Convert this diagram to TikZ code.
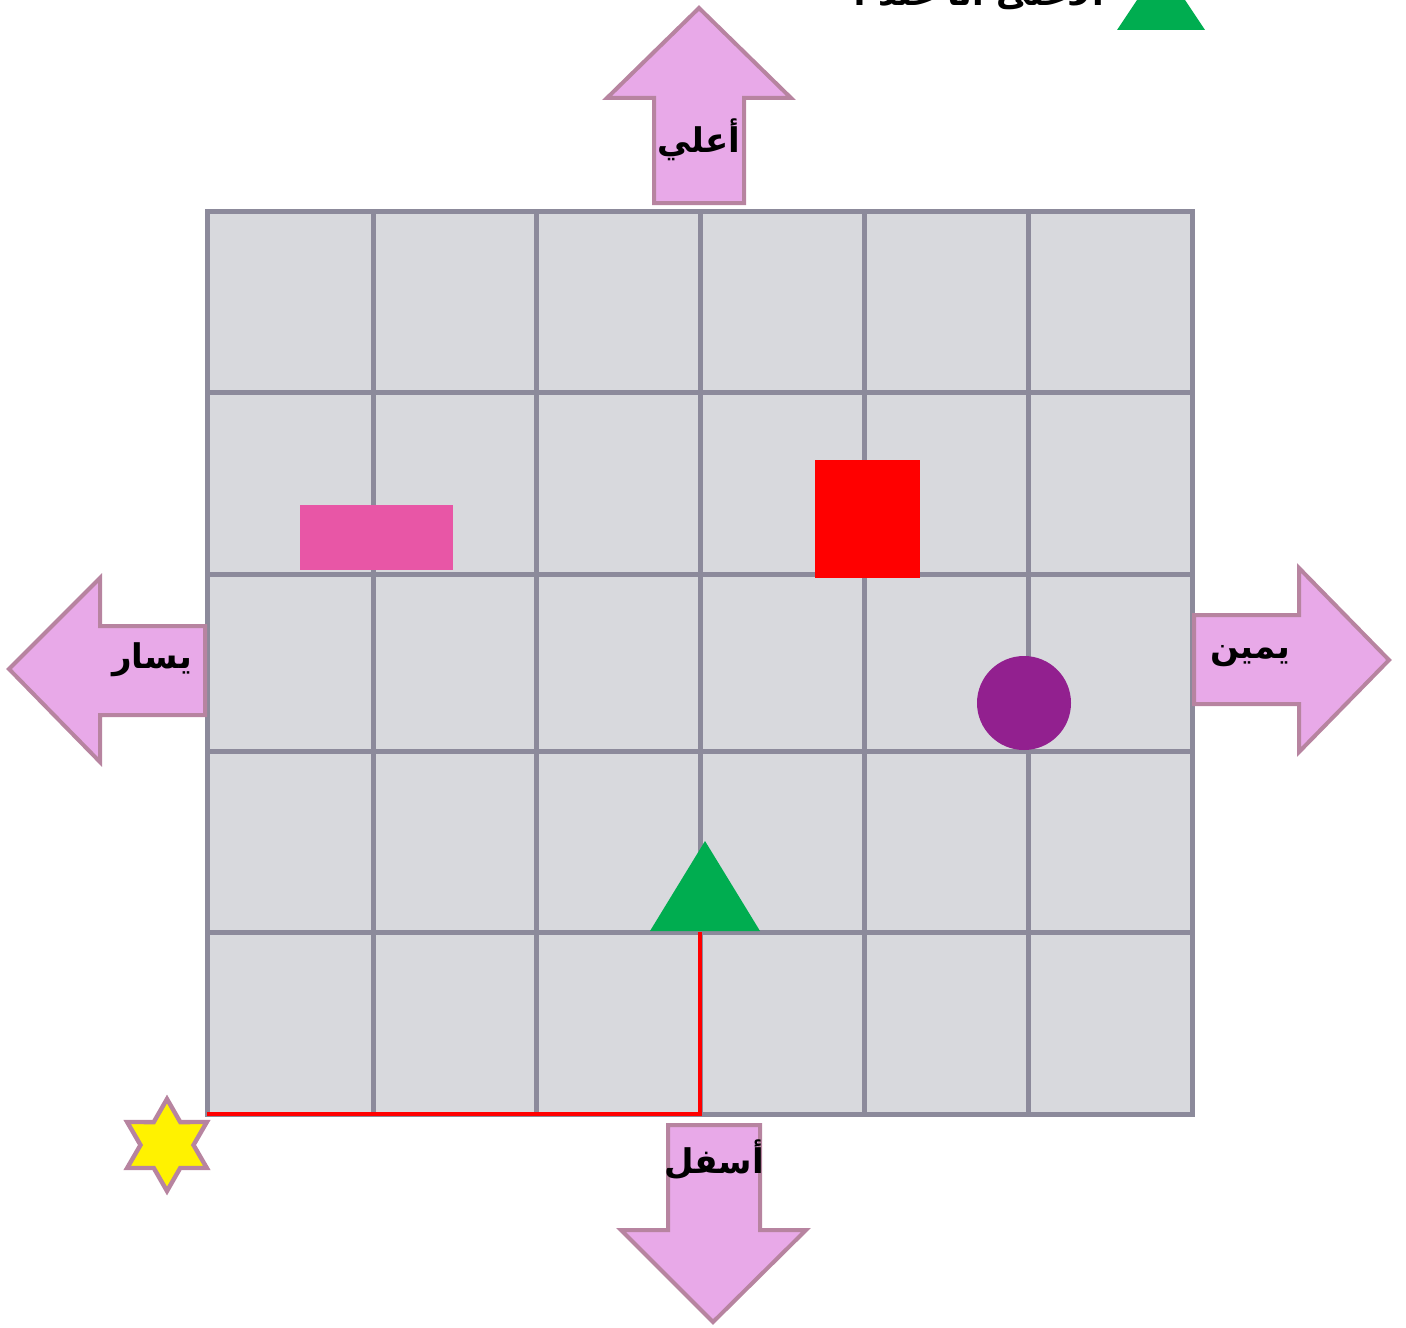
\documentclass[tikz,border=0pt]{standalone}
\usepackage{fontspec}
\newfontfamily\arabicfont[Script=Arabic]{DejaVu Sans}
\TeXXeTstate=1
\definecolor{gridfill}{RGB}{216,217,221}
\definecolor{gridline}{RGB}{140,138,155}
\definecolor{arrowfill}{RGB}{232,169,232}
\definecolor{arrowline}{RGB}{183,132,160}
\definecolor{pinkbar}{RGB}{232,86,166}
\definecolor{purpledot}{RGB}{146,32,143}
\definecolor{greentri}{RGB}{0,173,80}
\tikzset{
  gridln/.style={draw=gridline,line width=2.5pt},
  bigarrow/.style={fill=arrowfill,draw=arrowline,line width=2pt,line join=miter},
  lbl/.style={font=\arabicfont\bfseries\fontsize{17}{20}\selectfont,inner sep=0pt},
  pathln/.style={draw=red,line width=2pt},
  starstyle/.style={fill=yellow,draw=arrowline,line width=2.2pt,line join=miter}
}
\begin{document}
\begin{tikzpicture}[x=0.5pt,y=-0.5pt]
\useasboundingbox (0,0) rectangle (1406,1327);
\clip (0,0) rectangle (1406,1327);
% grid
\fill[gridfill] (207,211) rectangle (1192,1114);
\foreach \x in {373,536,700,864,1028}
  \draw[gridln] (\x,211) -- (\x,1114);
\foreach \y in {392,574,751,932}
  \draw[gridln] (207,\y) -- (1192,\y);
\draw[gridln] (207,211) rectangle (1192,1114);
% arrows
\draw[bigarrow] (699,8) -- (791,98) -- (744,98) -- (744,203) -- (654,203) -- (654,98) -- (607,98) -- cycle;
\draw[bigarrow] (9,669) -- (100,578) -- (100,626) -- (205,626) -- (205,715) -- (100,715) -- (100,762) -- cycle;
\draw[bigarrow] (1389,660) -- (1299,568) -- (1299,615) -- (1194,615) -- (1194,704) -- (1299,704) -- (1299,752) -- cycle;
\draw[bigarrow] (713,1322) -- (806,1230) -- (760,1230) -- (760,1125) -- (668,1125) -- (668,1230) -- (621,1230) -- cycle;
\node[lbl] (up) at (699,140) {\beginR أعلي\endR};
\node[lbl] (left) at (152,660) {\beginR يسار\endR};
\node[lbl] (right) at (1250,656) {\beginR يمين\endR};
\node[lbl] (down) at (714,1160) {\beginR أسفل\endR};
% objects
\fill[pinkbar] (300,505) rectangle (453,570);
\fill[red] (815,460) rectangle (920,578);
\fill[purpledot] (1024,703) circle (47);
\fill[greentri] (650,931) -- (760,931) -- (705,841) -- cycle;
% path
\coordinate (start) at (207,1114);
\coordinate (turn) at (700,1114);
\coordinate (goal) at (700,932);
\draw[pathln] (start) -- (turn) -- (goal);
% star
\draw[starstyle,shift={(167,1145)}] (90:46) -- (120:26.5) -- (150:46) -- (180:26.5) -- (210:46) -- (240:26.5) -- (270:46) -- (300:26.5) -- (330:46) -- (0:26.5) -- (30:46) -- (60:26.5) -- cycle;
% top caption (clipped)
\fill[greentri] (1117,30) -- (1205,30) -- (1161,-36) -- cycle;
\node[lbl,anchor=base east] (caption) at (1105,6) {\beginR الأعلى أنا عند .\endR};
\end{tikzpicture}
\end{document}
